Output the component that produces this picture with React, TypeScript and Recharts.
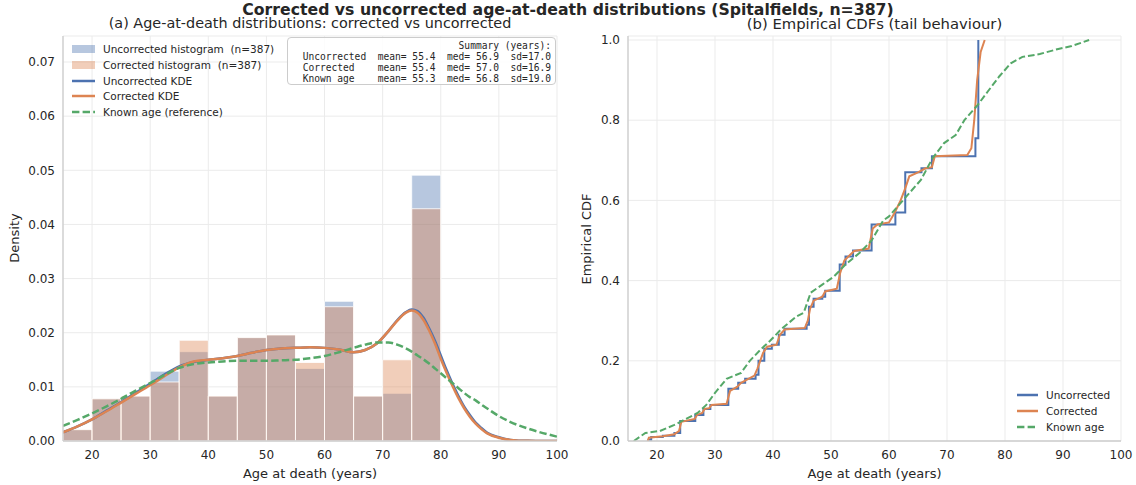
import React from 'react';
import {
  ComposedChart, LineChart, Line, XAxis, YAxis, CartesianGrid, ReferenceArea,
} from 'recharts';

// ---------- data ----------
const binEdges = [15, 20, 25, 30, 35, 40, 45, 50, 55, 60, 65, 70, 75, 80];
const uncorrectedHist = [0.0021, 0.0078, 0.0083, 0.0129, 0.0165, 0.0083, 0.0191, 0.0196, 0.0134, 0.0258, 0.0083, 0.0088, 0.0491];
const correctedHist = [0.0021, 0.0078, 0.0083, 0.0109, 0.0186, 0.0083, 0.0191, 0.0196, 0.0145, 0.0248, 0.0083, 0.0150, 0.0429];

const kdeAges = [15, 17.5, 20, 22.5, 25, 27.5, 30, 32.5, 35, 37.5, 40, 42.5, 45, 47.5, 50, 52.5, 55, 57.5, 60, 62.5, 65, 67, 69, 71, 72.5, 74, 75, 76, 77, 78, 79, 80, 81, 82, 83, 84, 85, 86, 87, 88, 90, 92, 95, 100];
const uncorrectedKde = [0.0016, 0.0027, 0.0040, 0.0056, 0.0072, 0.0089, 0.0106, 0.0123, 0.0138, 0.0146, 0.0150, 0.0153, 0.0157, 0.0163, 0.0168, 0.0171, 0.0172, 0.0173, 0.0172, 0.0169, 0.0164, 0.0168, 0.0180, 0.0203, 0.0223, 0.0238, 0.0243, 0.0240, 0.0228, 0.0208, 0.0185, 0.0158, 0.0131, 0.0106, 0.0084, 0.0064, 0.0048, 0.0034, 0.0024, 0.0015, 0.0007, 0.0002, 0.00003, 0];
const correctedKde = [0.0016, 0.0027, 0.0040, 0.0055, 0.0071, 0.0087, 0.0103, 0.0120, 0.0136, 0.0147, 0.0150, 0.0153, 0.0157, 0.0163, 0.0168, 0.0171, 0.0172, 0.0173, 0.0172, 0.0169, 0.0164, 0.0168, 0.0180, 0.0203, 0.0222, 0.0237, 0.0241, 0.0237, 0.0224, 0.0204, 0.0180, 0.0152, 0.0126, 0.0102, 0.0080, 0.0061, 0.0045, 0.0032, 0.0022, 0.0014, 0.0006, 0.0002, 0.00003, 0];
const knownKde = [0.0028, 0.0039, 0.0051, 0.0064, 0.0078, 0.0093, 0.0107, 0.0122, 0.0135, 0.0142, 0.0145, 0.0147, 0.0148, 0.0148, 0.0148, 0.0149, 0.0150, 0.0153, 0.0157, 0.0164, 0.0172, 0.0178, 0.0182, 0.0182, 0.0178, 0.0171, 0.0165, 0.0158, 0.0151, 0.0143, 0.0134, 0.0125, 0.0116, 0.0107, 0.0098, 0.0089, 0.0081, 0.0075, 0.0067, 0.0060, 0.0046, 0.0035, 0.0023, 0.0008];

// ECDF step points (age, cumulative fraction)
const uncorrectedEcdfAges = [18.4, 19, 21, 23, 24, 26.6, 28, 29.2, 32.3, 34, 35.2, 37, 37.5, 38.5, 39.8, 41, 42, 45.8, 46.2, 47, 48.5, 49, 51.5, 52.5, 53.8, 57, 61.1, 62.8, 65.6, 67.4, 74.9, 75.4];
const uncorrectedEcdf = [0.003, 0.01, 0.013, 0.02, 0.05, 0.065, 0.08, 0.09, 0.13, 0.145, 0.155, 0.165, 0.2, 0.23, 0.24, 0.265, 0.28, 0.29, 0.335, 0.355, 0.36, 0.375, 0.44, 0.46, 0.475, 0.54, 0.57, 0.67, 0.68, 0.71, 0.755, 1.0];

const correctedEcdfAges = [18.4, 18.6, 21, 23, 23.8, 24.2, 26.5, 26.9, 27.8, 28.2, 29, 29.4, 32, 32.6, 33.8, 34.5, 36.8, 37.3, 37.8, 38.3, 39, 40.6, 41.2, 42, 45.5, 46, 46.4, 47, 48.5, 49, 51, 51.6, 52.3, 53, 54, 56.5, 57.2, 58, 60, 61, 62, 62.8, 63.5, 65, 66.3, 67.4, 67.9, 73.5, 74.2, 74.7, 75.2, 75.8, 76.5];
const correctedEcdf = [0, 0.008, 0.012, 0.017, 0.025, 0.048, 0.055, 0.065, 0.07, 0.08, 0.082, 0.09, 0.093, 0.125, 0.135, 0.145, 0.163, 0.18, 0.2, 0.22, 0.235, 0.24, 0.265, 0.278, 0.282, 0.3, 0.33, 0.35, 0.36, 0.373, 0.38, 0.42, 0.45, 0.46, 0.474, 0.48, 0.53, 0.54, 0.545, 0.57, 0.6, 0.63, 0.66, 0.67, 0.68, 0.683, 0.71, 0.713, 0.73, 0.8, 0.9, 0.97, 1.0];

const knownEcdfAges = [16, 18, 20.5, 23, 25, 27, 28.5, 30, 32, 34.5, 36, 38, 39.5, 41.5, 44, 45.3, 46.5, 48.5, 50.5, 52.5, 55, 57, 59, 60, 63, 65.5, 67.5, 69.5, 71.5, 73, 75.3, 77, 79, 81, 83, 86, 89, 91.5, 94.5];
const knownEcdf = [0, 0.02, 0.025, 0.04, 0.055, 0.07, 0.09, 0.12, 0.155, 0.17, 0.2, 0.23, 0.25, 0.28, 0.31, 0.32, 0.37, 0.39, 0.41, 0.44, 0.47, 0.5, 0.55, 0.56, 0.61, 0.651, 0.705, 0.743, 0.763, 0.8, 0.838, 0.871, 0.909, 0.942, 0.958, 0.965, 0.977, 0.985, 1.0];

const xTicks = [20, 30, 40, 50, 60, 70, 80, 90, 100];
const densityTicks = [0, 0.01, 0.02, 0.03, 0.04, 0.05, 0.06, 0.07];
const cdfTicks = [0, 0.2, 0.4, 0.6, 0.8, 1.0];

const summaryLines = [
  'Summary (years):',
  'Uncorrected  mean= 55.4  med= 56.9  sd=17.0',
  'Corrected    mean= 55.4  med= 57.0  sd=16.9',
  'Known age    mean= 55.3  med= 56.8  sd=19.0',
];

// ---------- styles ----------
const BLUE = '#4C72B0';
const ORANGE = '#DD8452';
const GREEN = '#55A868';
const TEXT = '#262626';
const FONT = '"DejaVu Sans", sans-serif';
const GRID = '#ebebeb';
const SPINE = '#cccccc';

const zip = (xs: number[], ys: number[]) => xs.map((x, i) => ({ x, y: ys[i] }));

const tickStyle = { fontSize: 12, fill: TEXT, fontFamily: FONT };

function LegendRow({ kind, color, label, top, left, sw }: any) {
  return (
    <div style={{ position: 'absolute', top, left, height: 14, display: 'flex', alignItems: 'center', whiteSpace: 'pre' }}>
      <svg width={sw} height={14} style={{ marginRight: 8 }}>
        {kind === 'patch' && <rect x={0} y={3} width={sw} height={8} fill={color} fillOpacity={0.4} />}
        {kind === 'line' && <line x1={0} x2={sw} y1={7} y2={7} stroke={color} strokeWidth={2.5} />}
        {kind === 'dash' && <line x1={0} x2={sw} y1={7} y2={7} stroke={color} strokeWidth={2.5} strokeDasharray="7.4 3.2" />}
      </svg>
      <span style={{ fontSize: 10.5, color: TEXT, fontFamily: FONT, whiteSpace: 'pre' }}>{label}</span>
    </div>
  );
}

export default function App() {
  const uncKdeData = zip(kdeAges, uncorrectedKde);
  const corKdeData = zip(kdeAges, correctedKde);
  const knownKdeData = zip(kdeAges, knownKde);
  const uncEcdfData = zip(uncorrectedEcdfAges, uncorrectedEcdf);
  const corEcdfData = zip(correctedEcdfAges, correctedEcdf);
  const knownEcdfData = zip(knownEcdfAges, knownEcdf);

  return (
    <div style={{ position: 'absolute', left: 0, top: 0, width: 1136, height: 485, background: '#fff', fontFamily: FONT, overflow: 'hidden' }}>
      {/* Left panel */}
      <div style={{ position: 'absolute', left: 0, top: 0 }}>
        <ComposedChart width={570} height={485} margin={{ top: 36, right: 13, bottom: 14, left: 13 }}>
          <CartesianGrid stroke={GRID} strokeWidth={1} />
          <XAxis dataKey="x" type="number" domain={[15, 100]} ticks={xTicks} allowDataOverflow
            tickLine={false} tickSize={0} tickMargin={9} height={30}
            axisLine={{ stroke: SPINE, strokeWidth: 1.3 }} tick={tickStyle} />
          <YAxis type="number" domain={[0, 0.0748]} ticks={densityTicks} allowDataOverflow
            tickFormatter={(v: number) => v.toFixed(2)} tickLine={false} tickSize={0} tickMargin={8} width={50}
            axisLine={{ stroke: SPINE, strokeWidth: 1.3 }} tick={tickStyle} />
          {uncorrectedHist.map((v, i) => (
            <ReferenceArea key={'u' + i} x1={binEdges[i]} x2={binEdges[i + 1]} y1={0} y2={v}
              fill={BLUE} fillOpacity={0.4} stroke="#ffffff" strokeWidth={0.8} strokeOpacity={1} />
          ))}
          {correctedHist.map((v, i) => (
            <ReferenceArea key={'c' + i} x1={binEdges[i]} x2={binEdges[i + 1]} y1={0} y2={v}
              fill={ORANGE} fillOpacity={0.4} stroke="#ffffff" strokeWidth={0.8} strokeOpacity={1} />
          ))}
          <Line data={uncKdeData} dataKey="y" type="monotone" stroke={BLUE} strokeWidth={2.5} dot={false} isAnimationActive={false} />
          <Line data={corKdeData} dataKey="y" type="monotone" stroke={ORANGE} strokeWidth={2.5} dot={false} isAnimationActive={false} />
          <Line data={knownKdeData} dataKey="y" type="monotone" stroke={GREEN} strokeWidth={2.5} strokeDasharray="7.4 3.2" dot={false} isAnimationActive={false} />
        </ComposedChart>
      </div>

      {/* Right panel */}
      <div style={{ position: 'absolute', left: 570, top: 0 }}>
        <LineChart width={566} height={485} margin={{ top: 36, right: 15, bottom: 14, left: 13 }}>
          <CartesianGrid stroke={GRID} strokeWidth={1} />
          <XAxis dataKey="x" type="number" domain={[15, 100]} ticks={xTicks} allowDataOverflow
            tickLine={false} tickSize={0} tickMargin={9} height={30}
            axisLine={{ stroke: SPINE, strokeWidth: 1.3 }} tick={tickStyle} />
          <YAxis type="number" domain={[0, 1.01]} ticks={cdfTicks} allowDataOverflow
            tickFormatter={(v: number) => v.toFixed(1)} tickLine={false} tickSize={0} tickMargin={8} width={45}
            axisLine={{ stroke: SPINE, strokeWidth: 1.3 }} tick={tickStyle} />
          <Line data={uncEcdfData} dataKey="y" type="stepAfter" stroke={BLUE} strokeWidth={2} dot={false} isAnimationActive={false} />
          <Line data={corEcdfData} dataKey="y" type="linear" stroke={ORANGE} strokeWidth={2} dot={false} isAnimationActive={false} />
          <Line data={knownEcdfData} dataKey="y" type="linear" stroke={GREEN} strokeWidth={2} strokeDasharray="6.7 2.9" dot={false} isAnimationActive={false} />
        </LineChart>
      </div>

      {/* Titles */}
      <div style={{ position: 'absolute', left: 63, width: 494, top: 15, textAlign: 'center', fontSize: 14.4, lineHeight: '17px', color: TEXT, whiteSpace: 'nowrap' }}>
        (a) Age-at-death distributions: corrected vs uncorrected
      </div>
      <div style={{ position: 'absolute', left: 628, width: 493, top: 15, textAlign: 'center', fontSize: 14.8, lineHeight: '17px', color: TEXT, whiteSpace: 'nowrap' }}>
        (b) Empirical CDFs (tail behaviour)
      </div>
      <div style={{ position: 'absolute', left: 0, width: 1136, top: 1, textAlign: 'center', fontSize: 15.7, lineHeight: '18px', fontWeight: 'bold', color: TEXT, whiteSpace: 'nowrap' }}>
        Corrected vs uncorrected age-at-death distributions (Spitalfields, n=387)
      </div>

      {/* Axis labels */}
      <div style={{ position: 'absolute', left: 63, width: 494, top: 466, textAlign: 'center', fontSize: 13, color: TEXT }}>Age at death (years)</div>
      <div style={{ position: 'absolute', left: 628, width: 493, top: 466, textAlign: 'center', fontSize: 13, color: TEXT }}>Age at death (years)</div>
      <div style={{ position: 'absolute', left: 14, top: 238, transform: 'translate(-50%, -50%) rotate(-90deg)', fontSize: 13, color: TEXT, whiteSpace: 'nowrap' }}>Density</div>
      <div style={{ position: 'absolute', left: 586, top: 239, transform: 'translate(-50%, -50%) rotate(-90deg)', fontSize: 13, color: TEXT, whiteSpace: 'nowrap' }}>Empirical CDF</div>

      {/* Left legend */}
      <LegendRow kind="patch" color={BLUE} label="Uncorrected histogram  (n=387)" top={42} left={72} sw={23} />
      <LegendRow kind="patch" color={ORANGE} label="Corrected histogram  (n=387)" top={58} left={72} sw={23} />
      <LegendRow kind="line" color={BLUE} label="Uncorrected KDE" top={74} left={72} sw={23} />
      <LegendRow kind="line" color={ORANGE} label="Corrected KDE" top={89} left={72} sw={23} />
      <LegendRow kind="dash" color={GREEN} label="Known age (reference)" top={105} left={72} sw={23} />

      {/* Summary box */}
      <div style={{ position: 'absolute', left: 287, top: 37, width: 269, height: 48, boxSizing: 'border-box', border: '1px solid #cccccc', borderRadius: 4, background: 'rgba(255,255,255,0.85)' }}>
        <div style={{ position: 'absolute', right: 4, top: 2, textAlign: 'right', fontFamily: '"DejaVu Sans Mono", monospace', fontSize: 9.6, lineHeight: '11px', color: TEXT, whiteSpace: 'pre' }}>
          {summaryLines.join('\n')}
        </div>
      </div>

      {/* Right legend */}
      <LegendRow kind="line" color={BLUE} label="Uncorrected" top={388} left={1017} sw={21} />
      <LegendRow kind="line" color={ORANGE} label="Corrected" top={404} left={1017} sw={21} />
      <LegendRow kind="dash" color={GREEN} label="Known age" top={420} left={1017} sw={21} />
    </div>
  );
}
